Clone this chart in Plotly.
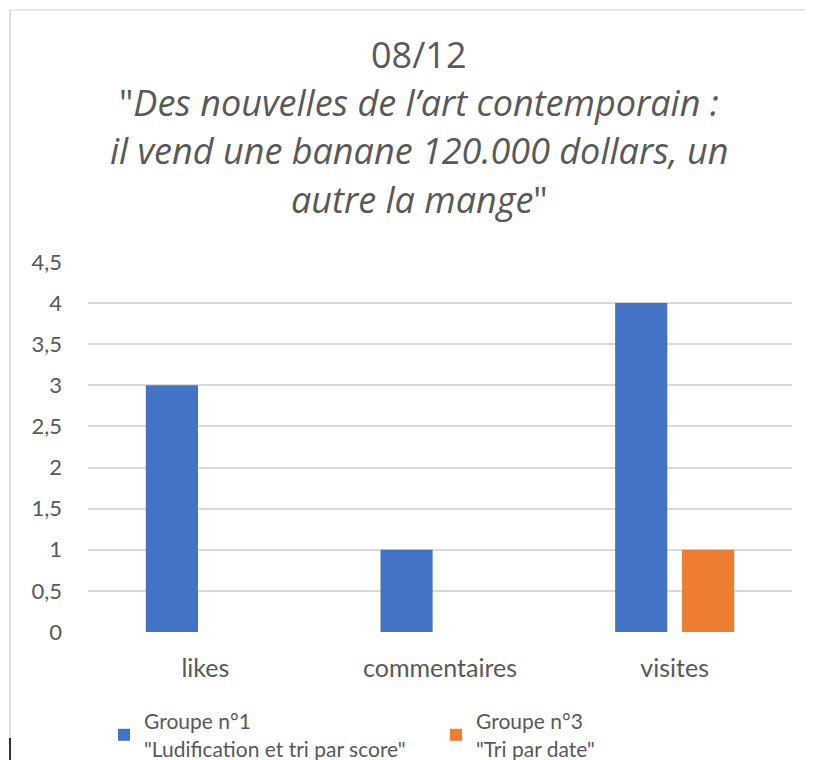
import plotly.graph_objects as go

# data
categories = ["likes", "commentaires", "visites"]
groupe1 = [3, 1, 4]
groupe3 = [0, 0, 1]
series_names = ['Groupe n°1<br>"Ludification et tri par score"',
                'Groupe n°3<br>"Tri par date"']
tick_vals = [0, 0.5, 1, 1.5, 2, 2.5, 3, 3.5, 4, 4.5]
tick_text = ["0", "0,5", "1", "1,5", "2", "2,5", "3", "3,5", "4", "4,5"]
title_lines = ["08/12",
               '"<i>Des nouvelles de l\u2019art contemporain :</i>',
               "<i>il vend une banane 120.000 dollars, un</i>",
               '<i>autre la mange</i>"']

GREY = "#595959"
OFF = 8  # page body margin
W, H = 813 - OFF, 760 - OFF
L, R, T, B = 88 - OFF, 21, 262 - OFF, 128
plot_w, plot_h = W - L - R, H - T - B


def px_to_paper_x(px):
    return (px - OFF - L) / plot_w


def px_to_paper_y(py):
    return (H - B - (py - OFF)) / plot_h


fig = go.Figure()
fig.add_trace(go.Bar(x=categories, y=groupe1, name=series_names[0],
                     marker=dict(color="#4472C4", line=dict(width=0))))
fig.add_trace(go.Bar(x=categories, y=groupe3, name=series_names[1],
                     marker=dict(color="#ED7D31", line=dict(width=0))))

title_y = [55, 103, 150, 199]
for txt, py in zip(title_lines, title_y):
    fig.add_annotation(text=txt, xref="paper", yref="paper",
                       x=px_to_paper_x(419), y=px_to_paper_y(py),
                       xanchor="center", yanchor="middle", showarrow=False,
                       font=dict(family="Open Sans", size=36, color=GREY))

# light frame of the original capture
fig.add_shape(type="line", xref="paper", yref="paper",
              x0=px_to_paper_x(10), x1=px_to_paper_x(10),
              y0=px_to_paper_y(10), y1=px_to_paper_y(760),
              line=dict(color="#dcdcdc", width=2))
fig.add_shape(type="line", xref="paper", yref="paper",
              x0=px_to_paper_x(10), x1=px_to_paper_x(813),
              y0=px_to_paper_y(10), y1=px_to_paper_y(10),
              line=dict(color="#e6e6e6", width=2))
fig.add_shape(type="line", xref="paper", yref="paper",
              x0=px_to_paper_x(10), x1=px_to_paper_x(10),
              y0=px_to_paper_y(738), y1=px_to_paper_y(760),
              line=dict(color="#333333", width=2))

fig.update_layout(
    width=W, height=H,
    margin=dict(l=L, r=R, t=T, b=B, autoexpand=False),
    paper_bgcolor="white", plot_bgcolor="white",
    barmode="group", bargap=0.43, bargroupgap=0.22,
    font=dict(family="Lato", color=GREY),
    showlegend=True,
    legend=dict(orientation="h", x=px_to_paper_x(104), xanchor="left",
                y=px_to_paper_y(701), yanchor="top",
                font=dict(size=21, color=GREY), entrywidth=287,
                itemsizing="constant", traceorder="normal"),
    xaxis=dict(showgrid=False, showline=False, zeroline=False,
               tickfont=dict(size=25, color=GREY), ticklabelstandoff=19),
    yaxis=dict(range=[0, 4.5], tickvals=tick_vals, ticktext=tick_text,
               showgrid=True, gridcolor="#d9d9d9", gridwidth=1.5,
               zeroline=False, showline=False,
               tickfont=dict(size=22, color=GREY), ticklabelstandoff=25),
)

fig.write_html("out.html")
